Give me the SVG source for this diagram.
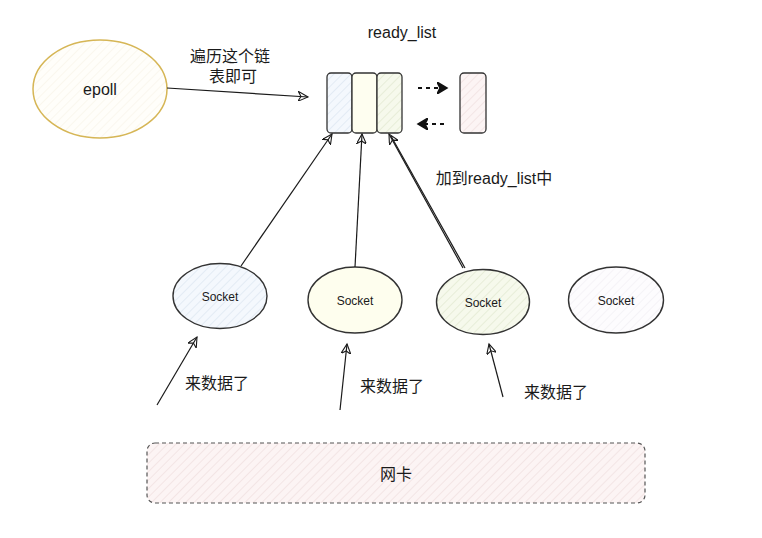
<svg xmlns="http://www.w3.org/2000/svg" width="762" height="538" viewBox="0 0 762 538">
<style>
text{font-family:"Liberation Sans","Noto Sans CJK SC",sans-serif;fill:#1a1a1a;text-anchor:middle}
.edge{fill:none;stroke:#1a1a1a;stroke-width:1.2}
.box{stroke:#333;stroke-width:1.3}
.sock{stroke:#333;stroke-width:1.4}
</style>
<defs>
<pattern id="hb" width="6" height="6" patternUnits="userSpaceOnUse" patternTransform="rotate(45)"><rect width="6" height="6" fill="#f4f8fd"/><line x1="0" y1="0" x2="0" y2="6" stroke="#d3deec" stroke-width="1"/></pattern>
<pattern id="hg" width="6" height="6" patternUnits="userSpaceOnUse" patternTransform="rotate(45)"><rect width="6" height="6" fill="#f6f9ec"/><line x1="0" y1="0" x2="0" y2="6" stroke="#d9e2c4" stroke-width="1"/></pattern>
<pattern id="hp" width="6" height="6" patternUnits="userSpaceOnUse" patternTransform="rotate(45)"><rect width="6" height="6" fill="#fcf4f4"/><line x1="0" y1="0" x2="0" y2="6" stroke="#ead6d6" stroke-width="1"/></pattern>
<pattern id="hw" width="6" height="6" patternUnits="userSpaceOnUse" patternTransform="rotate(45)"><rect width="6" height="6" fill="#fdfcfe"/><line x1="0" y1="0" x2="0" y2="6" stroke="#eeeaf0" stroke-width="1"/></pattern>
<pattern id="hy" width="6" height="6" patternUnits="userSpaceOnUse" patternTransform="rotate(45)"><rect width="6" height="6" fill="#fffefa"/><line x1="0" y1="0" x2="0" y2="6" stroke="#f5f1e2" stroke-width="1"/></pattern>
<marker id="ar" markerWidth="12" markerHeight="10" refX="10" refY="5" orient="auto" markerUnits="userSpaceOnUse"><path d="M0,0 L10,5 L0,10 L3,5 Z" fill="none" stroke="#1a1a1a" stroke-width="1.1"/></marker>
<marker id="ard" markerWidth="12" markerHeight="12" refX="10" refY="6" orient="auto" markerUnits="userSpaceOnUse"><path d="M0,0 L10,6 L0,12 L3,6 Z" fill="#111" stroke="#111" stroke-width="1.5"/></marker>
</defs>

<g id="epoll">
<ellipse cx="100" cy="89" rx="67" ry="49" fill="url(#hy)" stroke="#d6b656" stroke-width="1.5"/>
<text x="100" y="95" font-size="16">epoll</text>
</g>

<g id="ready_list">
<text x="402" y="38" font-size="16">ready_list</text>
<rect class="box" x="327" y="73" width="25" height="60" rx="4" fill="url(#hb)"/>
<rect class="box" x="352" y="73" width="25" height="60" rx="4" fill="#fefef0"/>
<rect class="box" x="377" y="73" width="25" height="60" rx="4" fill="url(#hg)"/>
</g>

<g id="far_node">
<rect class="box" x="460" y="73" width="26" height="60" rx="4" fill="url(#hp)"/>
</g>

<g id="socket1">
<ellipse class="sock" cx="220" cy="296" rx="47" ry="32.5" fill="url(#hb)" stroke="#7c98c0"/>
<text x="220" y="301" font-size="12">Socket</text>
</g>
<g id="socket2">
<ellipse class="sock" cx="355" cy="300" rx="47" ry="33" fill="#fefeee"/>
<text x="355" y="305" font-size="12">Socket</text>
</g>
<g id="socket3">
<ellipse class="sock" cx="483" cy="302" rx="46.5" ry="32.5" fill="url(#hg)"/>
<text x="483" y="307" font-size="12">Socket</text>
</g>
<g id="socket4">
<ellipse class="sock" cx="616" cy="300" rx="47.5" ry="33" fill="url(#hw)"/>
<text x="616" y="305" font-size="12">Socket</text>
</g>

<g id="nic">
<rect x="147" y="443" width="498" height="60" rx="8" fill="url(#hp)" stroke="#555" stroke-width="1.2" stroke-dasharray="4 3"/>
<text x="396" y="480" font-size="16">网卡</text>
</g>

<g id="connectors">
<path class="edge" d="M167,88 L308,97" marker-end="url(#ar)"/>
<path d="M418,88 L447,88" fill="none" stroke="#111" stroke-width="2.2" stroke-dasharray="4 4" marker-end="url(#ard)"/>
<path d="M444,124 L418,124" fill="none" stroke="#111" stroke-width="2.2" stroke-dasharray="4 4" marker-end="url(#ard)"/>
<path class="edge" d="M241,266 L332,134" marker-end="url(#ar)"/>
<path class="edge" d="M355,267 L362,134" marker-end="url(#ar)"/>
<path class="edge" d="M463,268 L389,134" marker-end="url(#ar)"/>
<path class="edge" d="M465,268 L391,136" stroke-width="0.8"/>
<path class="edge" d="M157,405 L197,337" marker-end="url(#ar)"/>
<path class="edge" d="M340,410 L347,344" marker-end="url(#ar)"/>
<path class="edge" d="M503,397 L489,344" marker-end="url(#ar)"/>
<text x="230" y="62" font-size="16">遍历这个链</text>
<text x="233" y="82" font-size="16">表即可</text>
<text x="494" y="184" font-size="16">加到ready_list中</text>
<text x="217" y="389" font-size="16">来数据了</text>
<text x="392" y="392" font-size="16">来数据了</text>
<text x="556" y="398" font-size="16">来数据了</text>
</g>
</svg>
